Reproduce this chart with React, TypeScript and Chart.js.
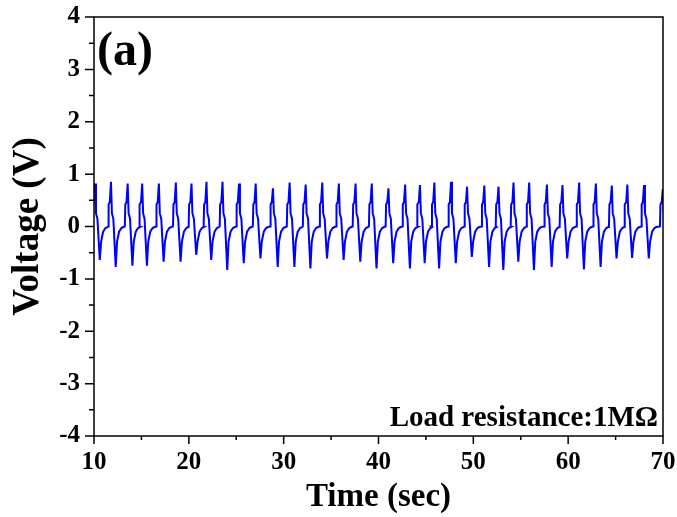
import React, { useEffect, useRef } from "react";
import { Chart, registerables } from "chart.js";

Chart.register(...registerables);

// Axis ticks
const xMajorTicks = [10, 20, 30, 40, 50, 60, 70];
const xMinorTicks = [15, 25, 35, 45, 55, 65];
const yMajorTicks = [-4, -3, -2, -1, 0, 1, 2, 3, 4];
const yMinorTicks = [-3.5, -2.5, -1.5, -0.5, 0.5, 1.5, 2.5, 3.5];

// Per-pulse readings (time of each voltage peak in sec, peak volts, following trough volts)
const peakTimes = [
  10.11, 11.79, 13.55, 15.08, 16.84, 18.63, 20.28, 21.86, 23.55, 25.29, 27.05, 28.87,
  30.63, 32.32, 34.07, 35.82, 37.58, 39.29, 41.05, 42.81, 44.37, 45.89, 47.65, 49.34,
  51.16, 52.66, 54.24, 55.89, 57.76, 59.4, 61.16, 62.92, 64.6, 66.24, 68.0, 69.98,
];
const peakVolts = [
  0.82, 0.855, 0.82, 0.82, 0.82, 0.84, 0.82, 0.855, 0.855, 0.82, 0.82, 0.73,
  0.84, 0.8, 0.84, 0.82, 0.82, 0.82, 0.73, 0.8, 0.79, 0.84, 0.855, 0.76,
  0.78, 0.76, 0.84, 0.84, 0.8, 0.79, 0.84, 0.82, 0.78, 0.8, 0.79, 0.72,
];
const troughVolts = [
  -0.64, -0.77, -0.75, -0.75, -0.67, -0.67, -0.54, -0.64, -0.83, -0.7, -0.61, -0.77,
  -0.77, -0.8, -0.61, -0.64, -0.67, -0.8, -0.7, -0.8, -0.7, -0.8, -0.7, -0.58,
  -0.77, -0.83, -0.67, -0.83, -0.77, -0.61, -0.82, -0.77, -0.61, -0.6, -0.61,
];
// Shape of one pulse: time offsets from the peak (sec) and volts
const pulseOffsets = [-0.3, -0.25, -0.12, 0, 0.1, 0.25, 0.5, 0.64, 0.85, 1.1, 1.3];
const pulseVolts: (number | string)[] = [0.0, 0.42, 0.47, "peak", 0.25, 0.15, "trough", -0.29, -0.1, -0.03, -0.01];

const FONT = "'Liberation Serif', 'Times New Roman', serif";

function buildSeries() {
  const pts: { x: number; y: number }[] = [];
  peakTimes.forEach((tp, i) => {
    for (let j = 0; j < pulseOffsets.length; j++) {
      const tag = pulseVolts[j];
      let v: number | undefined;
      if (tag === "peak") v = peakVolts[i];
      else if (tag === "trough") v = troughVolts[i];
      else v = tag as number;
      if (v === undefined) break;
      pts.push({ x: tp + pulseOffsets[j], y: v });
    }
  });
  return pts;
}

const decor = {
  id: "decor",
  afterDraw(chart: any) {
    const { ctx, chartArea: a, scales } = chart;
    const x = scales.x;
    const y = scales.y;
    ctx.save();
    ctx.strokeStyle = "#000";
    ctx.lineWidth = 1.5;
    ctx.strokeRect(a.left, a.top, a.right - a.left, a.bottom - a.top);
    ctx.beginPath();
    for (const v of yMajorTicks) {
      const p = y.getPixelForValue(v);
      ctx.moveTo(a.left, p);
      ctx.lineTo(a.left - 9, p);
    }
    for (const v of yMinorTicks) {
      const p = y.getPixelForValue(v);
      ctx.moveTo(a.left, p);
      ctx.lineTo(a.left - 5, p);
    }
    for (const v of xMajorTicks) {
      const p = x.getPixelForValue(v);
      ctx.moveTo(p, a.bottom);
      ctx.lineTo(p, a.bottom + 8);
    }
    for (const v of xMinorTicks) {
      const p = x.getPixelForValue(v);
      ctx.moveTo(p, a.bottom);
      ctx.lineTo(p, a.bottom + 4);
    }
    ctx.stroke();
    ctx.fillStyle = "#000";
    ctx.font = `bold 48px ${FONT}`;
    ctx.textAlign = "left";
    ctx.textBaseline = "alphabetic";
    ctx.fillText("(a)", a.left + 3, a.top + 48);
    ctx.font = `bold 29px ${FONT}`;
    ctx.textAlign = "right";
    ctx.fillText("Load resistance:1M\u03A9", a.right - 5, a.bottom - 10);
    ctx.restore();
  },
};

const zeroPad = (s: any) => {
  s.paddingTop = 0;
  s.paddingBottom = 0;
  s.paddingLeft = 0;
  s.paddingRight = 0;
};

export default function App() {
  const ref = useRef<HTMLCanvasElement>(null);
  useEffect(() => {
    if (!ref.current) return;
    const chart = new Chart(ref.current, {
      type: "line",
      data: {
        datasets: [
          {
            data: buildSeries(),
            borderColor: "#0000ff",
            borderWidth: 2,
            pointRadius: 0,
            tension: 0,
            fill: false,
          },
        ],
      },
      options: {
        animation: false,
        responsive: false,
        devicePixelRatio: 1,
        layout: { padding: { top: 17, right: 14, left: 0, bottom: 0 } },
        plugins: { legend: { display: false }, tooltip: { enabled: false } },
        scales: {
          x: {
            type: "linear",
            min: 10,
            max: 70,
            afterBuildTicks: (s: any) => {
              s.ticks = xMajorTicks.map((v) => ({ value: v }));
            },
            afterFit: (s: any) => {
              s.height = 81;
              zeroPad(s);
            },
            grid: { display: false, drawTicks: false },
            border: { display: false },
            ticks: {
              color: "#000",
              font: { family: FONT, size: 25, weight: "bold" },
              padding: 12,
              maxRotation: 0,
              autoSkip: false,
              callback: (v: any) => String(v),
            },
            title: {
              display: true,
              text: "Time (sec)",
              color: "#000",
              font: { family: FONT, size: 33, weight: "bold", lineHeight: 1 },
              padding: { top: 0, bottom: 3 },
            },
          },
          y: {
            type: "linear",
            min: -4,
            max: 4,
            afterBuildTicks: (s: any) => {
              s.ticks = yMajorTicks.map((v) => ({ value: v }));
            },
            afterFit: (s: any) => {
              s.width = 94;
              zeroPad(s);
            },
            grid: { display: false, drawTicks: false },
            border: { display: false },
            ticks: {
              color: "#000",
              font: { family: FONT, size: 25, weight: "bold" },
              padding: 14,
              autoSkip: false,
              callback: (v: any) => String(v),
            },
            title: {
              display: true,
              text: "Voltage (V)",
              color: "#000",
              font: { family: FONT, size: 37, weight: "bold", lineHeight: 1 },
              padding: { top: 10, bottom: 0 },
            },
          },
        },
      },
      plugins: [decor],
    });
    return () => chart.destroy();
  }, []);
  return (
    <div style={{ position: "fixed", left: 0, top: 0, width: 677, height: 517, background: "#fff" }}>
      <canvas ref={ref} width={677} height={517} style={{ width: 677, height: 517 }} />
    </div>
  );
}
